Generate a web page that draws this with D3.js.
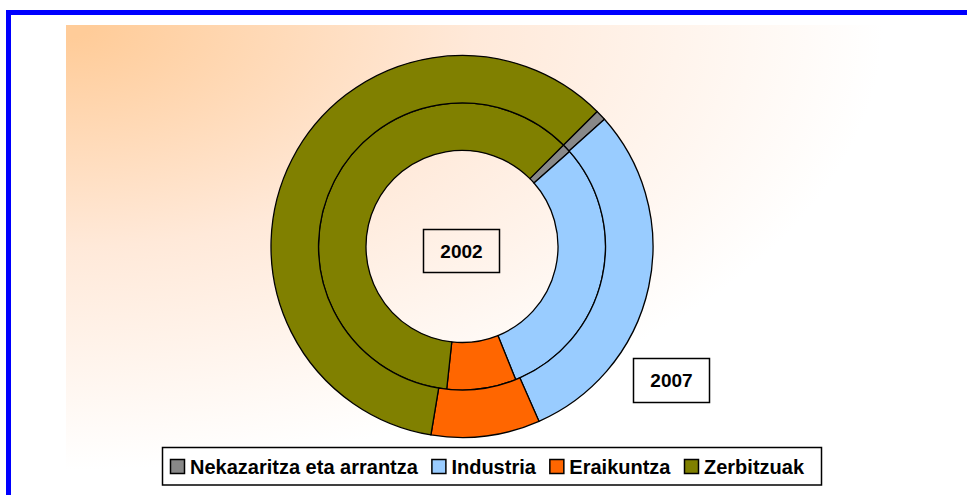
<!DOCTYPE html>
<html>
<head>
<meta charset="utf-8">
<script src="https://cdn.jsdelivr.net/npm/d3@7"></script>
<style>
  body { margin: 0; background: #ffffff; }
  text { font-family: Arial, "Liberation Sans", sans-serif; font-weight: bold; }
</style>
</head>
<body>
<script>
// chart data (shares in %)
var categories = ["Nekazaritza eta arrantza", "Industria", "Eraikuntza", "Zerbitzuak"];
var years = ["2002", "2007"];
var values2002 = [1.0, 30.4, 7.8, 60.8];
var values2007 = [0.9, 30.0, 9.2, 59.9];
var colors = ["#888888", "#99CCFF", "#FF6600", "#808000"];

var w = 967;
var h = 495;
var cx = 462, cy = 246.5;

var svg = d3.select("body")
    .append("svg")
    .attr("width", w)
    .attr("height", h);

// background gradient of the plot area, orange in the top left corner
var defs = svg.append("defs");
var grad = defs.append("radialGradient")
    .attr("id", "bg")
    .attr("cx", 0).attr("cy", 0).attr("r", 1)
    .attr("fx", 0).attr("fy", 0);
grad.append("stop").attr("offset", "0").attr("stop-color", "#FFCC99");
grad.append("stop").attr("offset", "0.03").attr("stop-color", "#FFCC99");
grad.append("stop").attr("offset", "0.5").attr("stop-color", "#FFE9D9");
grad.append("stop").attr("offset", "1").attr("stop-color", "#FFFFFF");

svg.append("rect")
    .attr("x", 66).attr("y", 25)
    .attr("width", 817).attr("height", 445)
    .attr("fill", "url(#bg)");

// blue frame (runs off the right and bottom edges)
svg.append("rect")
    .attr("x", 8.5).attr("y", 12.5)
    .attr("width", 980).attr("height", 500)
    .attr("fill", "none")
    .attr("stroke", "#0000FF")
    .attr("stroke-width", 5);

// rings: one band per year, 2002 inside
var ring = d3.scaleBand()
    .domain(years)
    .range([96, 191]);

var color = d3.scaleOrdinal()
    .domain(categories)
    .range(colors);

var pie = d3.pie()
    .sort(null)
    .startAngle(Math.PI / 4)
    .endAngle(Math.PI / 4 + 2 * Math.PI);

var series = [values2002, values2007];

var g = svg.append("g")
    .attr("transform", "translate(" + cx + "," + cy + ")");

series.forEach(function(vals, k){
    var arc = d3.arc()
        .innerRadius(ring(years[k]))
        .outerRadius(ring(years[k]) + ring.bandwidth());

    var rows = categories.map(function(c, i){ return {name: c, value: vals[i]}; });

    g.selectAll("path.y" + years[k])
        .data(pie.value(function(d){ return d.value; })(rows))
        .enter()
        .append("path")
        .attr("class", "y" + years[k])
        .attr("d", arc)
        .attr("fill", function(d){ return color(d.data.name); })
        .attr("stroke", "#000000")
        .attr("stroke-width", 1.3)
        .attr("stroke-linejoin", "round");
});

// year labels
var labels = [
    {text: years[0], x: 423.5, y: 229.5, w: 76, h: 43},
    {text: years[1], x: 633.5, y: 358.5, w: 76, h: 44}
];
labels.forEach(function(d){
    svg.append("rect")
        .attr("x", d.x).attr("y", d.y)
        .attr("width", d.w).attr("height", d.h)
        .attr("fill", "none")
        .attr("stroke", "#000000")
        .attr("stroke-width", 1.5);
    svg.append("text")
        .attr("x", d.x + d.w / 2)
        .attr("y", d.y + d.h / 2 + 6.5)
        .attr("text-anchor", "middle")
        .style("font-size", "19px")
        .text(d.text);
});

// legend
svg.append("rect")
    .attr("x", 162.5).attr("y", 447.5)
    .attr("width", 659).attr("height", 37.5)
    .attr("fill", "#ffffff")
    .attr("stroke", "#000000")
    .attr("stroke-width", 1.5);

var lx = 170.5;
categories.forEach(function(c){
    svg.append("rect")
        .attr("x", lx).attr("y", 459.5)
        .attr("width", 14).attr("height", 14)
        .attr("fill", color(c))
        .attr("stroke", "#000000")
        .attr("stroke-width", 1.5);
    var t = svg.append("text")
        .attr("x", lx + 19.5)
        .attr("y", 473.5)
        .style("font-size", "20px")
        .text(c);
    lx += 19.5 + t.node().getComputedTextLength() + 14;
});
</script>
</body>
</html>
